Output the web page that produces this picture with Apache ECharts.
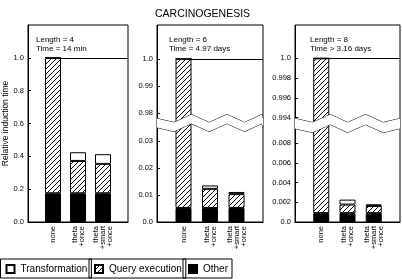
<!DOCTYPE html>
<html>
<head>
<meta charset="utf-8">
<script src="https://cdn.jsdelivr.net/npm/echarts@6.0.0/dist/echarts.min.js"></script>
<style>
  html, body { margin: 0; padding: 0; background: #fff; }
  #chart { width: 402px; height: 279px; }
</style>
</head>
<body>
<div id="chart"></div>
<script>
// x axis slots: an empty slot on each side of the three methods
const slots = ['', 'none', 'theta\n+once', 'theta\n+smart\n+once', ''];

// segment sizes (stacked), panel "Length = 4"
const other4 = [0.175, 0.175, 0.175];
const query4 = [0.825, 0.197, 0.179];
const trans4 = [0, 0.053, 0.059];
const ticks4 = [0, 0.2, 0.4, 0.6, 0.8, 1.0];

// panel "Length = 6"
const other6 = [0.0052, 0.0052, 0.0052];
const query6 = [0.9948, 0.00705, 0.0051];
const trans6 = [0, 0.00125, 0.0008];
const ticks6 = [0, 0.01, 0.02, 0.03, 0.98, 0.99, 1.0];

// panel "Length = 8"
const other8 = [0.0009, 0.0009, 0.0009];
const query8 = [0.9991, 0.00087, 0.00072];
const trans8 = [0, 0.0005, 0.00018];
const ticks8 = [0, 0.002, 0.004, 0.006, 0.008, 0.994, 0.996, 0.998, 1.0];

const panelNotes = ['Length = 4\nTime = 14 min', 'Length = 6\nTime = 4.97 days', 'Length = 8\nTime > 3.16 days'];

const FONT = 'Liberation Sans, Arial, sans-serif';

// hatch pattern "/"
function makeHatch() {
  const c = document.createElement('canvas');
  c.width = 5; c.height = 5;
  const g = c.getContext('2d');
  g.fillStyle = '#fff';
  g.fillRect(0, 0, 5, 5);
  g.fillStyle = '#000';
  for (let i = 0; i < 5; i++) g.fillRect(i, 4 - i, 1, 1);
  return c;
}
const hatch = { image: makeHatch(), repeat: 'repeat' };

function gridAt(left, width) {
  return { left: left, top: 25, width: width, height: 197, show: true, borderColor: '#000', borderWidth: 1, backgroundColor: 'transparent' };
}

function xAxisFor(gi) {
  return {
    type: 'category', gridIndex: gi, data: slots, boundaryGap: false,
    axisLine: { show: true, lineStyle: { color: '#000', width: 1 } },
    axisTick: { show: false },
    splitLine: { show: false },
    axisLabel: {
      interval: 0, rotate: 90, fontSize: 7.5, lineHeight: 7, color: '#000', fontFamily: FONT, margin: 4
    }
  };
}

const breakArea = {
  show: true,
  itemStyle: { color: '#fff', borderColor: '#000', borderWidth: 1, borderType: 'solid', opacity: 1 },
  zigzagAmplitude: 4,
  zigzagMinSpan: 17,
  zigzagMaxSpan: 18,
  zigzagZ: 100,
  expandOnClick: false
};

function tickText(v, decimals) {
  if (Math.abs(v) < 1e-12) return '0.0';
  if (Math.abs(v - 1) < 1e-9) return '1.0';
  return (+v).toFixed(decimals);
}

function yAxisFor(gi, max, ticks, decimals, brk) {
  const ax = {
    type: 'value', gridIndex: gi, min: 0, max: max,
    axisLine: { show: true, lineStyle: { color: '#000', width: 1 } },
    axisTick: { show: true, inside: true, length: 3, lineStyle: { color: '#000' }, customValues: ticks },
    splitLine: { show: false },
    axisLabel: {
      customValues: ticks,
      fontSize: 7.5, color: '#000', fontFamily: FONT, margin: 4, hideOverlap: false,
      formatter: v => tickText(v, decimals)
    }
  };
  if (brk) {
    ax.breaks = [brk];
    ax.breakArea = breakArea;
    ax.breakLabelLayout = { moveOverlap: false };
  }
  return ax;
}

// pad with empty slots on both sides
function padded(vals) {
  return [null].concat(vals, [null]);
}

function panelSeries(gi, other, query, trans, lineFrom, lineTo) {
  const common = { type: 'bar', xAxisIndex: gi, yAxisIndex: gi, stack: 'p' + gi, barWidth: 16, silent: true };
  return [
    Object.assign({}, common, {
      name: 'Other', data: padded(other),
      itemStyle: { color: '#000', borderColor: '#000', borderWidth: 1 }
    }),
    Object.assign({}, common, {
      name: 'Query execution', data: padded(query),
      itemStyle: { color: hatch, borderColor: '#000', borderWidth: 1 },
      markLine: {
        silent: true, symbol: 'none', label: { show: false },
        lineStyle: { color: '#000', width: 1, type: 'solid' },
        data: [[{ coord: [lineFrom, 1] }, { coord: [lineTo, 1] }]]
      }
    }),
    Object.assign({}, common, {
      name: 'Transformation', data: padded(trans),
      itemStyle: { color: '#fff', borderColor: '#000', borderWidth: 1 }
    })
  ];
}

function note(id, left, text) {
  return { id: id, type: 'text', left: left, top: 36, style: { text: text, font: '8px ' + FONT, fill: '#000', lineHeight: 8.5 } };
}

const legendCommon = {
  orient: 'horizontal', top: 259, itemWidth: 8, itemHeight: 8, itemGap: 0,
  padding: [4, 4, 3, 5], borderColor: '#000', borderWidth: 1, icon: 'rect',
  selectedMode: false,
  textStyle: { fontSize: 10, color: '#000', fontFamily: FONT, lineHeight: 12, padding: [0, 0, 0, 1] }
};

// first panel: its tick labels are placed from the axis scale after layout
const yAxis0 = yAxisFor(0, 1.2, ticks4, 1, null);
yAxis0.axisLabel.show = false;
Object.assign(yAxis0, {
  name: 'Relative induction time', nameLocation: 'middle', nameRotate: 90, nameGap: 18,
  nameMoveOverlap: false,
  nameTextStyle: { fontSize: 8.5, color: '#000', fontFamily: FONT }
});

const notes = [note('n0', 36, panelNotes[0]), note('n1', 169, panelNotes[1]), note('n2', 310, panelNotes[2])];

const chart = echarts.init(document.getElementById('chart'));
chart.setOption({
  animation: false,
  backgroundColor: '#fff',
  title: {
    text: 'CARCINOGENESIS', left: 150, top: 4,
    textStyle: { fontSize: 10.5, fontWeight: 'normal', color: '#000', fontFamily: FONT }
  },
  grid: [gridAt(22, 106), gridAt(157, 106), gridAt(295, 105)],
  xAxis: [xAxisFor(0), xAxisFor(1), xAxisFor(2)],
  yAxis: [
    yAxis0,
    yAxisFor(1, 1.0125, ticks6, 2, { start: 0.0349, end: 0.9779, gap: 0.0033 }),
    yAxisFor(2, 1.00338, ticks8, 3, { start: 0.0095, end: 0.9939, gap: 0.001 })
  ],
  legend: [
    Object.assign({}, legendCommon, { left: 0.5, data: ['Transformation'] }),
    Object.assign({}, legendCommon, { left: 89, data: ['Query execution'] }),
    Object.assign({}, legendCommon, { left: 183, data: ['Other'] })
  ],
  graphic: notes,
  series: [].concat(
    panelSeries(0, other4, query4, trans4, 0.53, 3.55),
    panelSeries(1, other6, query6, trans6, 0.53, 3.9),
    panelSeries(2, other8, query8, trans8, 0.5, 3.5)
  )
});

// tick labels of the first panel, positioned through its y scale
const axisX = chart.convertToPixel({ xAxisIndex: 0 }, 0);
const tickLabels = ticks4.map((v, i) => ({
  id: 't' + i, type: 'text', x: axisX - 4, y: chart.convertToPixel({ yAxisIndex: 0 }, v),
  style: { text: tickText(v, 1), font: '7.5px ' + FONT, fill: '#000', align: 'right', verticalAlign: 'middle' }
}));
chart.setOption({ graphic: notes.concat(tickLabels) });
</script>
</body>
</html>
